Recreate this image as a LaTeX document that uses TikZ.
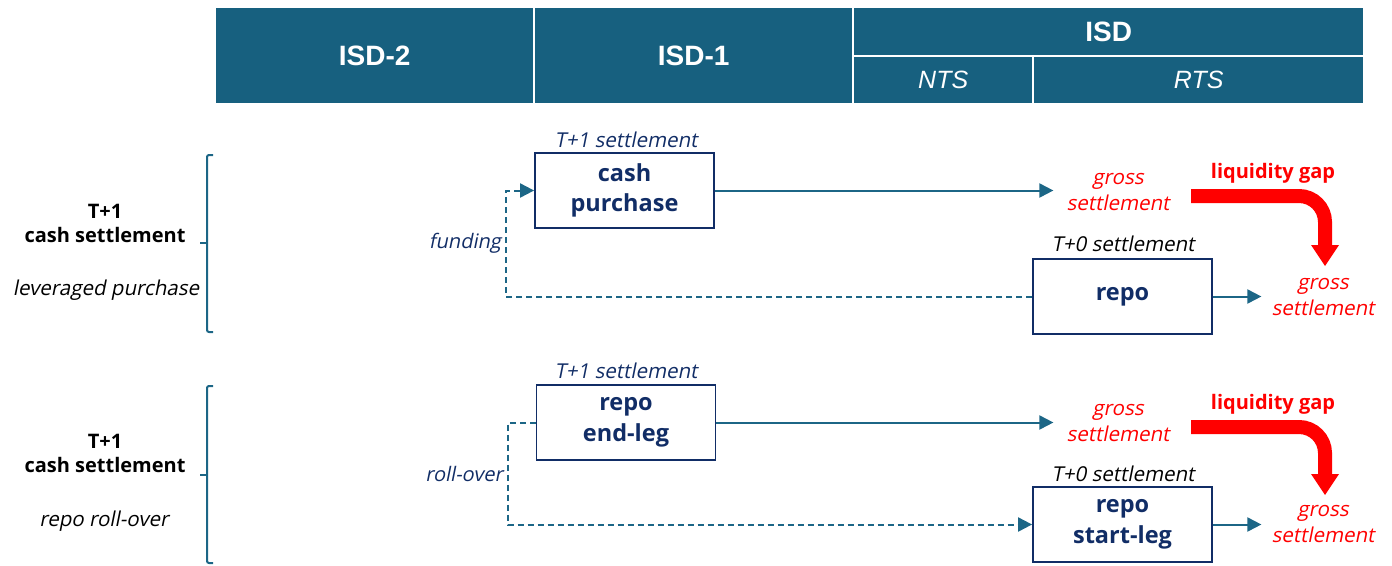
\documentclass[tikz,border=0pt]{standalone}
\usepackage{fontspec}
\setmainfont{Open Sans}
\newfontfamily\slfont[FakeSlant=0.2]{Open Sans}
\newfontfamily\hdrfont{Liberation Sans}
\usetikzlibrary{arrows.meta}
\definecolor{hdrblue}{HTML}{17607F}
\definecolor{arrteal}{HTML}{1C6686}
\definecolor{navyc}{HTML}{112D66}
\definecolor{gapred}{HTML}{FF0000}
\tikzset{
  hcell/.style={fill=hdrblue, text=white, inner sep=0pt, anchor=north west, font=\hdrfont\bfseries\fontsize{28}{30}\selectfont},
  hsub/.style={hcell, font=\hdrfont\itshape\fontsize{25}{30}\selectfont},
  box/.style={draw=navyc, line width=1.8pt, minimum width=179pt, minimum height=75pt, align=center, inner sep=0pt, text=navyc, font=\bfseries\fontsize{23.5}{30.5}\selectfont},
  tlab/.style={text=navyc, anchor=base, inner sep=0pt, font=\slfont\fontsize{20.5}{24}\selectfont},
  t0lab/.style={tlab, text=black},
  gross/.style={text=gapred, align=center, inner sep=0pt, font=\slfont\fontsize{20.5}{26}\selectfont},
  gaplab/.style={text=gapred, anchor=base, inner sep=0pt, font=\bfseries\fontsize{20}{24}\selectfont},
  sidelab/.style={text=black, align=center, inner sep=0pt, font=\bfseries\fontsize{20}{24}\selectfont},
  sideit/.style={text=black, anchor=base, inner sep=0pt, font=\slfont\fontsize{20.5}{24}\selectfont},
  flowlab/.style={text=navyc, inner sep=0pt, anchor=base east, font=\slfont\fontsize{20}{24}\selectfont},
  conn/.style={draw=arrteal, line width=2pt, -{Triangle[length=14pt,width=14pt]}},
  dconn/.style={conn, dash pattern=on 6pt off 4pt},
  brace/.style={draw=arrteal, line width=2pt, rounded corners=2pt},
  gap/.style={draw=gapred, line width=14pt, rounded corners=26pt},
}
\begin{document}
\begin{tikzpicture}[x=1pt, y=-1pt]
\useasboundingbox (0,0) rectangle (1392,565);
% header
\node[hcell, minimum width=317pt, minimum height=95pt] (isd2) at (216,8) {ISD-2};
\node[hcell, minimum width=317pt, minimum height=95pt] (isd1) at (535,8) {ISD-1};
\node[hcell, minimum width=509pt, minimum height=47pt] (isd) at (854,8) {ISD};
\node[hsub, minimum width=178pt, minimum height=46pt] (nts) at (854,57) {NTS};
\node[hsub, minimum width=329pt, minimum height=46pt] (rts) at (1034,57) {RTS};

% group 1
\draw[brace] (213,155) -- (207,155) -- (207,332) -- (213,332);
\draw[brace] (207,243) -- (200,243);
\node[sidelab] (s1) at (105,223) {T+1\\cash settlement};
\node[sideit] (s1b) at (106,295) {leveraged purchase};

\node[box] (cp) at (624.5,190.5) {cash\\purchase};
\node[tlab] (cpl) at (626,147.5) {T+1 settlement};
\node[gross] (g1) at (1118,192) {gross\\settlement};
\node[gaplab] (lg1) at (1273,178) {liquidity gap};
\node[box] (rp) at (1122.5,296.5) {repo};
\node[t0lab] (rpl) at (1123,251.5) {T+0 settlement};
\node[gross] (g2) at (1323,297.5) {gross\\settlement};
\node[flowlab] (fund) at (501,248) {funding};

\draw[conn, shorten >=13pt] (cp.east) -- (cp.east -| g1.west);
\draw[conn, shorten >=10pt] (rp.east) -- (rp.east -| g2.west);
\draw[dconn] (rp.west) -- ++(-526,0) |- (cp.west);
\draw[gap] (1191,196) -| (1325,247);
\fill[gapred] (1311,245) -- (1339,245) -- (1325,266) -- cycle;

% group 2
\draw[brace] (213,386) -- (207,386) -- (207,563) -- (213,563);
\draw[brace] (207,475) -- (200,475);
\node[sidelab] (s2) at (105,453) {T+1\\cash settlement};
\node[sideit] (s2b) at (104,526) {repo roll-over};

\node[box] (el) at (626,422.5) {repo\\end-leg};
\node[tlab] (ell) at (626,378) {T+1 settlement};
\node[gross] (g3) at (1118,423) {gross\\settlement};
\node[gaplab] (lg2) at (1273,409) {liquidity gap};
\node[box] (sl) at (1122.5,524.5) {repo\\start-leg};
\node[t0lab] (sll) at (1123,481.5) {T+0 settlement};
\node[gross] (g4) at (1323,524.5) {gross\\settlement};
\node[flowlab] (roll) at (503,481.5) {roll-over};

\draw[conn, shorten >=13pt] (el.east) -- (el.east -| g3.west);
\draw[conn, shorten >=10pt] (sl.east) -- (sl.east -| g4.west);
\draw[dconn] (el.west) -- ++(-28,0) |- (sl.west);
\draw[gap] (1191,427) -| (1325,476);
\fill[gapred] (1311,474) -- (1339,474) -- (1325,495) -- cycle;
\end{tikzpicture}
\end{document}
